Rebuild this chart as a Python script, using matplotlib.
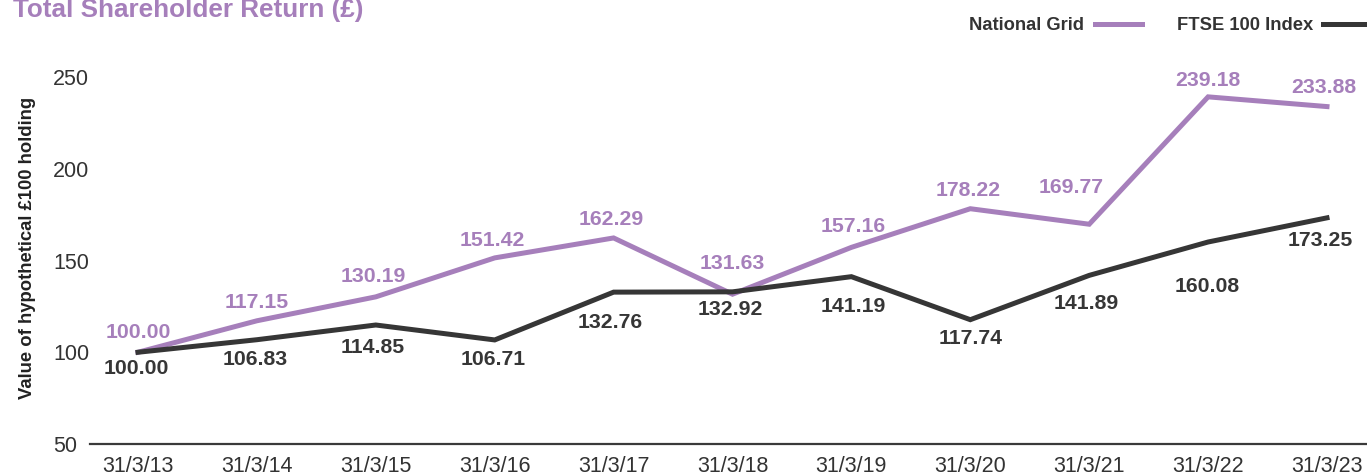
import matplotlib.pyplot as plt

plt.rcParams['font.family'] = ['Liberation Sans', 'DejaVu Sans']

dates = ['31/3/13', '31/3/14', '31/3/15', '31/3/16', '31/3/17', '31/3/18',
         '31/3/19', '31/3/20', '31/3/21', '31/3/22', '31/3/23']
national_grid = [100.00, 117.15, 130.19, 151.42, 162.29, 131.63,
                 157.16, 178.22, 169.77, 239.18, 233.88]
ftse_100 = [100.00, 106.83, 114.85, 106.71, 132.76, 132.92,
            141.19, 117.74, 141.89, 160.08, 173.25]

# label offsets in pixels (dx, dy) - tuned by eye
ng_offsets = [(0, 20), (0, 18), (-2, 20), (-2, 17), (-2, 18), (0, 31),
              (2, 21), (-2, 18), (-18, 37), (0, 16), (-3, 19)]
ftse_offsets = [(-2, -16), (-2, -20), (-3, -22), (-2, -20), (-3, -30), (-2, -18),
                (2, -30), (0, -19), (-3, -28), (-1, -44), (-7, -23)]

purple = '#a67fbb'
dark = '#363636'

W, H = 1367, 475
fig = plt.figure(figsize=(W / 100, H / 100), dpi=100)

y_lo, y_hi = 50, 255
px_per_unit = (444 - 77) / 200
top_px = 444 - (y_hi - y_lo) * px_per_unit
ax = fig.add_axes([90 / W, 1 - 444 / H, (W - 90) / W, (444 - top_px) / H])

x = list(range(len(dates)))
ax.plot(x, national_grid, color=purple, lw=3.6, solid_joinstyle='miter', label='National Grid')
ax.plot(x, ftse_100, color=dark, lw=3.6, solid_joinstyle='miter', label='FTSE 100 Index')

for i, v in enumerate(national_grid):
    dx, dy = ng_offsets[i]
    ax.annotate(f'{v:.2f}', (i, v), xytext=(dx, dy), textcoords='offset pixels',
                ha='center', va='center', fontsize=15.3, fontweight='bold', color=purple)
for i, v in enumerate(ftse_100):
    dx, dy = ftse_offsets[i]
    ax.annotate(f'{v:.2f}', (i, v), xytext=(dx, dy), textcoords='offset pixels',
                ha='center', va='center', fontsize=15.3, fontweight='bold', color=dark)

unit = (1327 - 138) / 10
ax.set_xlim(-(138 - 90) / unit, (W - 138) / unit)
ax.set_ylim(y_lo, y_hi)
ax.set_xticks(x)
ax.set_xticklabels(dates)
ax.set_yticks([50, 100, 150, 200, 250])
for lab in ax.get_yticklabels():
    lab.set_horizontalalignment('left')
ax.tick_params(axis='both', length=0, labelsize=15.5, colors='#333333')
ax.tick_params(axis='y', pad=26.6)
ax.tick_params(axis='x', pad=9)

for s in ['top', 'right', 'left']:
    ax.spines[s].set_visible(False)
ax.spines['bottom'].set_color('#3a3a3a')
ax.spines['bottom'].set_linewidth(1.6)

fig.text(28 / W, 1 - 248 / H, 'Value of hypothetical £100 holding', rotation=90,
         ha='center', va='center', fontsize=13.3, fontweight='bold', color='#222222')

fig.text(13 / W, 1 - 17 / H, 'Total Shareholder Return (£)', ha='left', va='baseline',
         fontsize=18.8, fontweight='bold', color=purple)

leg = ax.legend(loc='center right', bbox_to_anchor=(1371 / W, 1 - 26 / H),
                bbox_transform=fig.transFigure, ncol=2, frameon=False, markerfirst=False,
                handlelength=2.6, handletextpad=0.55, columnspacing=1.9,
                borderaxespad=0, borderpad=0, prop={'size': 13.2, 'weight': 'bold'})
for t in leg.get_texts():
    t.set_color('#333333')

fig.savefig('out.png', dpi=100)
